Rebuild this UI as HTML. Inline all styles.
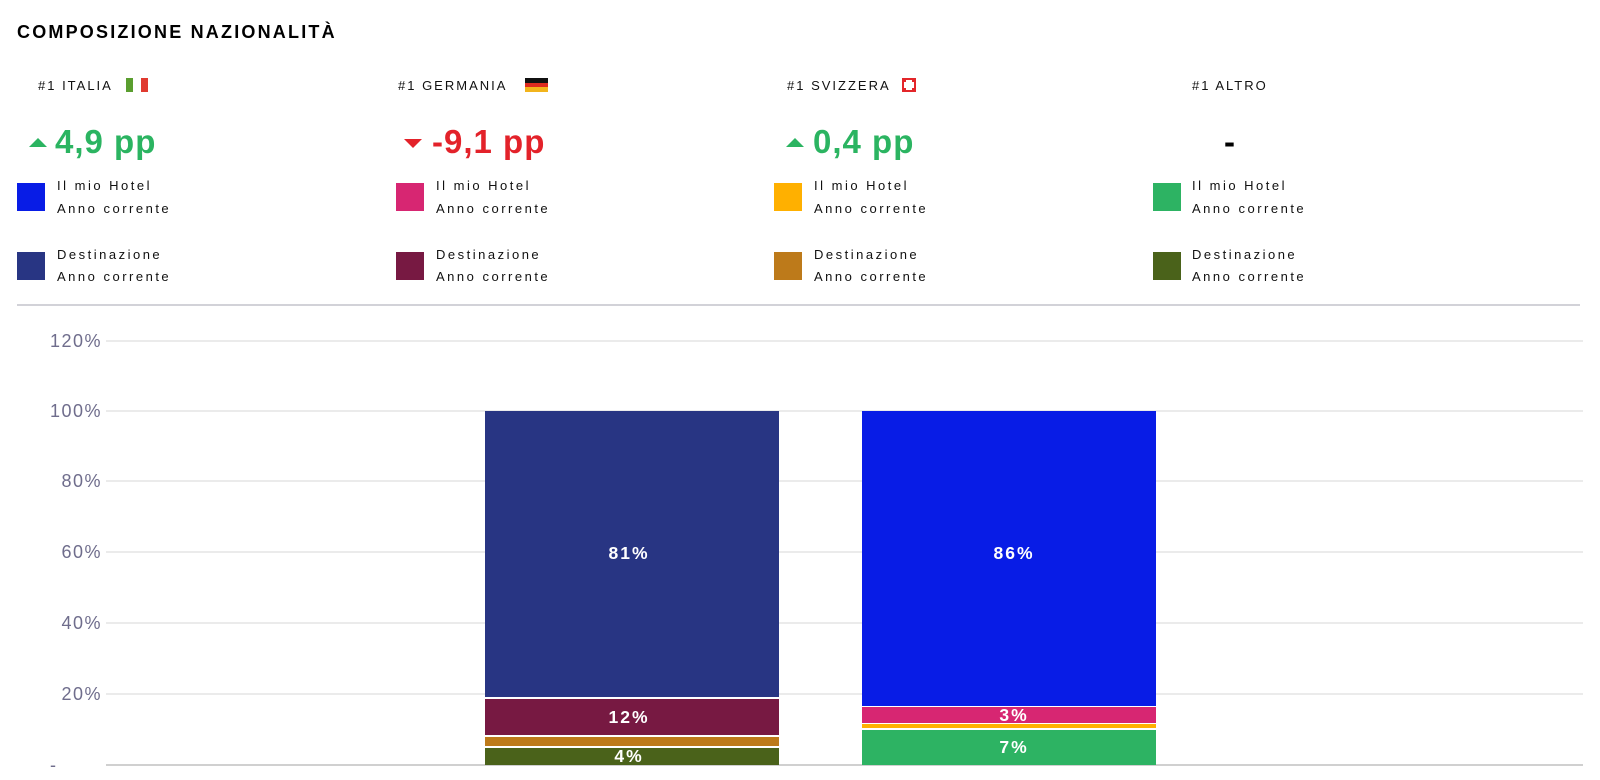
<!DOCTYPE html>
<html><head><meta charset="utf-8">
<style>
*{margin:0;padding:0;box-sizing:border-box}
html,body{width:1600px;height:780px;background:#fff;overflow:hidden}
body{position:relative;font-family:"Liberation Sans",Arial,sans-serif;color:#111}
.a{position:absolute;white-space:nowrap}
.title{left:17px;top:23px;font-size:18px;line-height:18px;font-weight:bold;letter-spacing:2.2px;color:#000}
.hdr{font-size:13px;line-height:13px;letter-spacing:2px;color:#111;top:79px}
.lg{font-size:13px;line-height:13px;letter-spacing:2.5px;color:#111}
.sq{position:absolute;width:28px;height:28px}
.delta{font-size:33px;line-height:33px;font-weight:bold;letter-spacing:1px;top:125px}
.up{position:absolute;width:0;height:0;border-left:9.5px solid transparent;border-right:9.5px solid transparent;border-bottom:9px solid #2bb461;top:138px}
.dn{position:absolute;width:0;height:0;border-left:9.5px solid transparent;border-right:9.5px solid transparent;border-top:9px solid #e3222a;top:139px}
.grid{position:absolute;left:106px;width:1477px;height:2px;background:#ebebeb}
.yl{position:absolute;width:60px;left:42px;text-align:right;font-size:18px;line-height:18px;letter-spacing:1.5px;color:#6f6d8c}
.seg{position:absolute}
.bl{position:absolute;width:100px;text-align:center;font-size:17.5px;line-height:17.5px;font-weight:bold;letter-spacing:2px;color:#fff}
</style></head><body>

<div class="a title">COMPOSIZIONE NAZIONALITÀ</div>

<!-- column headers -->
<div class="a hdr" style="left:38px">#1 ITALIA</div>
<div class="a" style="left:126px;top:78px;width:7px;height:14px;background:#5a9e2f"></div>
<div class="a" style="left:141px;top:78px;width:7px;height:14px;background:#e03a30"></div>

<div class="a hdr" style="left:398px">#1 GERMANIA</div>
<div class="a" style="left:525px;top:78px;width:23px;height:5px;background:#111"></div>
<div class="a" style="left:525px;top:83px;width:23px;height:4px;background:#dd2a1f"></div>
<div class="a" style="left:525px;top:87px;width:23px;height:5px;background:#f2b41c"></div>

<div class="a hdr" style="left:787px">#1 SVIZZERA</div>
<div class="a" style="left:902px;top:78px;width:14px;height:14px;background:#e3262a"></div>
<div class="a" style="left:904px;top:80px;width:10px;height:10px;background:#fff"></div>
<div class="a" style="left:904px;top:80px;width:2px;height:2px;background:#e3262a"></div>
<div class="a" style="left:912px;top:80px;width:2px;height:2px;background:#e3262a"></div>
<div class="a" style="left:904px;top:88px;width:2px;height:2px;background:#e3262a"></div>
<div class="a" style="left:912px;top:88px;width:2px;height:2px;background:#e3262a"></div>

<div class="a hdr" style="left:1192px">#1 ALTRO</div>

<!-- deltas -->
<div class="up" style="left:29px"></div>
<div class="a delta" style="left:55px;color:#2bb461">4,9 pp</div>
<div class="dn" style="left:404px"></div>
<div class="a delta" style="left:432px;color:#e3222a">-9,1 pp</div>
<div class="up" style="left:786px"></div>
<div class="a delta" style="left:813px;color:#2bb461">0,4 pp</div>
<div class="a delta" style="left:1200px;width:60px;text-align:center;color:#000">-</div>

<!-- legends -->
<div class="sq" style="left:17px;top:183px;background:#081ce6"></div>
<div class="sq" style="left:17px;top:252px;background:#283583"></div>
<div class="a lg" style="left:57px;top:179px">Il mio Hotel</div>
<div class="a lg" style="left:57px;top:202px">Anno corrente</div>
<div class="a lg" style="left:57px;top:248px">Destinazione</div>
<div class="a lg" style="left:57px;top:270px">Anno corrente</div>

<div class="sq" style="left:396px;top:183px;background:#d72672"></div>
<div class="sq" style="left:396px;top:252px;background:#771942"></div>
<div class="a lg" style="left:436px;top:179px">Il mio Hotel</div>
<div class="a lg" style="left:436px;top:202px">Anno corrente</div>
<div class="a lg" style="left:436px;top:248px">Destinazione</div>
<div class="a lg" style="left:436px;top:270px">Anno corrente</div>

<div class="sq" style="left:774px;top:183px;background:#ffb000"></div>
<div class="sq" style="left:774px;top:252px;background:#bd7a1a"></div>
<div class="a lg" style="left:814px;top:179px">Il mio Hotel</div>
<div class="a lg" style="left:814px;top:202px">Anno corrente</div>
<div class="a lg" style="left:814px;top:248px">Destinazione</div>
<div class="a lg" style="left:814px;top:270px">Anno corrente</div>

<div class="sq" style="left:1153px;top:183px;background:#2db363"></div>
<div class="sq" style="left:1153px;top:252px;background:#4a621a"></div>
<div class="a lg" style="left:1192px;top:179px">Il mio Hotel</div>
<div class="a lg" style="left:1192px;top:202px">Anno corrente</div>
<div class="a lg" style="left:1192px;top:248px">Destinazione</div>
<div class="a lg" style="left:1192px;top:270px">Anno corrente</div>

<!-- separator -->
<div class="a" style="left:17px;top:304px;width:1563px;height:2px;background:#d2d2d8"></div>

<!-- grid -->
<div class="grid" style="top:340px"></div>
<div class="grid" style="top:410px"></div>
<div class="grid" style="top:480px"></div>
<div class="grid" style="top:551px"></div>
<div class="grid" style="top:622px"></div>
<div class="grid" style="top:693px"></div>
<div class="grid" style="top:764px;background:#d0d0d0"></div>

<div class="yl" style="top:332px">120%</div>
<div class="yl" style="top:402px">100%</div>
<div class="yl" style="top:472px">80%</div>
<div class="yl" style="top:543px">60%</div>
<div class="yl" style="top:614px">40%</div>
<div class="yl" style="top:685px">20%</div>
<div class="yl" style="top:756px;left:50px;text-align:left">-</div>

<!-- left bar -->
<div class="seg" style="left:485px;width:294px;top:411px;height:286px;background:#283583"></div>
<div class="seg" style="left:485px;width:294px;top:699px;height:36px;background:#771942"></div>
<div class="seg" style="left:485px;width:294px;top:737px;height:9px;background:#bd7a1a"></div>
<div class="seg" style="left:485px;width:294px;top:748px;height:17px;background:#4a621a"></div>

<!-- right bar -->
<div class="seg" style="left:862px;width:294px;top:411px;height:295px;background:#081ce6"></div>
<div class="seg" style="left:862px;width:294px;top:707px;height:16px;background:#d72672"></div>
<div class="seg" style="left:862px;width:294px;top:724px;height:4px;background:#ffb000"></div>
<div class="seg" style="left:862px;width:294px;top:730px;height:35px;background:#2db363"></div>

<!-- bar labels -->
<div class="bl" style="left:579px;top:545px">81%</div>
<div class="bl" style="left:579px;top:709px">12%</div>
<div class="bl" style="left:579px;top:748px">4%</div>
<div class="bl" style="left:964px;top:545px">86%</div>
<div class="bl" style="left:964px;top:707px">3%</div>
<div class="bl" style="left:964px;top:739px">7%</div>

</body></html>
